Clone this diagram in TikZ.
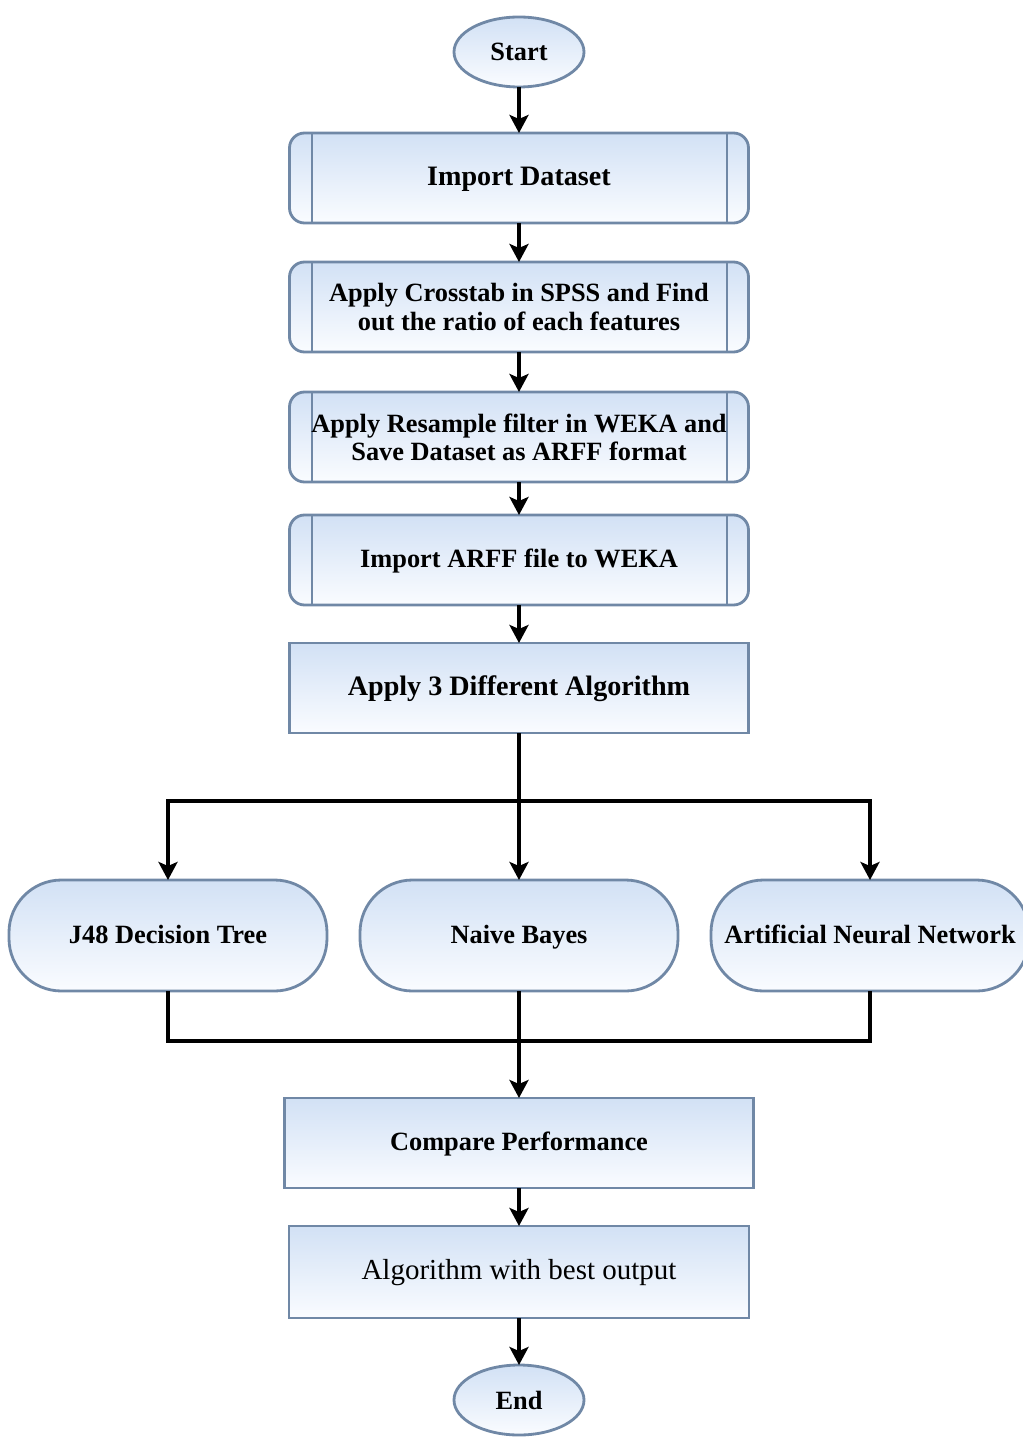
\documentclass[tikz,border=0pt]{standalone}
\usepackage{fontspec}
\setmainfont{Liberation Serif}
\usetikzlibrary{positioning,arrows.meta,shapes.geometric}

\definecolor{boxline}{RGB}{112,136,166}
\definecolor{boxtop}{RGB}{210,225,245}
\definecolor{boxbottom}{RGB}{250,252,255}

\tikzset{
    base/.style={draw=boxline, line width=1.6pt, outer sep=0pt, inner sep=0pt, top color=boxtop, bottom color=boxbottom, align=center, font=\fontsize{15}{16}\selectfont\bfseries},
    oneline/.style={text height=1.0em, text depth=0.1em},
    bigtext/.style={font=\fontsize{16}{18}\selectfont\bfseries},
    terminal/.style={base, ellipse, minimum width=2.6cm, minimum height=1.4cm},
    predef/.style={base, rectangle, rounded corners=0.3cm, minimum width=9.18cm, minimum height=1.8cm,
        path picture={
            \draw [boxline, line width=1.6pt] ([xshift=0.45cm]path picture bounding box.north west) -- ([xshift=0.45cm]path picture bounding box.south west);
            \draw [boxline, line width=1.6pt] ([xshift=-0.43cm]path picture bounding box.north east) -- ([xshift=-0.43cm]path picture bounding box.south east);
        }},
    process/.style={base, oneline, rectangle, minimum width=9.18cm, minimum height=1.8cm},
    algo/.style={base, oneline, rectangle, rounded corners=1.05cm, minimum width=6.36cm, minimum height=2.22cm},
    flow/.style={line width=2.1pt, -{Stealth[length=0.36cm, width=0.38cm, inset=0.08cm]}},
    link/.style={line width=2.1pt},
}

\begin{document}
\begin{tikzpicture}
    \useasboundingbox (-10.38, 1.04) rectangle (10.06, -27.78);

    \node [terminal] (start) at (0, 0) {Start};
    \node [predef, oneline, bigtext, below=0.92cm of start] (import) {Import Dataset};
    \node [predef, below=0.78cm of import] (crosstab) {Apply Crosstab in SPSS and Find\\out the ratio of each features};
    \node [predef, below=0.8cm of crosstab] (resample) {Apply Resample filter in WEKA and\\Save Dataset as ARFF format};
    \node [predef, oneline, below=0.66cm of resample] (arff) {Import ARFF file to WEKA};
    \node [process, bigtext, below=0.76cm of arff] (apply) {Apply 3 Different Algorithm};

    % three algorithms
    \node [algo, below=2.94cm of apply] (bayes) {Naive Bayes};
    \node [algo, left=0.66cm of bayes] (j48) {J48 Decision Tree};
    \node [algo, right=0.66cm of bayes] (ann) {Artificial Neural Network};

    \node [process, below=2.14cm of bayes, minimum width=9.38cm] (compare) {Compare Performance};
    \node [process, below=0.76cm of compare, minimum width=9.2cm, minimum height=1.84cm, font=\fontsize{16.5}{20}\selectfont] (best) {Algorithm with best output};
    \node [terminal, below=0.94cm of best] (end) {End};

    \coordinate (split) at ([yshift=-1.36cm]apply.south);
    \coordinate (merge) at ([yshift=-1.0cm]bayes.south);

    \draw [flow] (start) -- (import);
    \draw [flow] (import) -- (crosstab);
    \draw [flow] (crosstab) -- (resample);
    \draw [flow] (resample) -- (arff);
    \draw [flow] (arff) -- (apply);
    \draw [link] (apply) -- (split);
    \draw [flow] (split) -| (j48);
    \draw [flow] (split) -- (bayes);
    \draw [flow] (split) -| (ann);
    \draw [link] (j48) |- (merge);
    \draw [link] (ann) |- (merge);
    \draw [flow] (bayes) -- (compare);
    \draw [flow] (compare) -- (best);
    \draw [flow] (best) -- (end);
\end{tikzpicture}
\end{document}
